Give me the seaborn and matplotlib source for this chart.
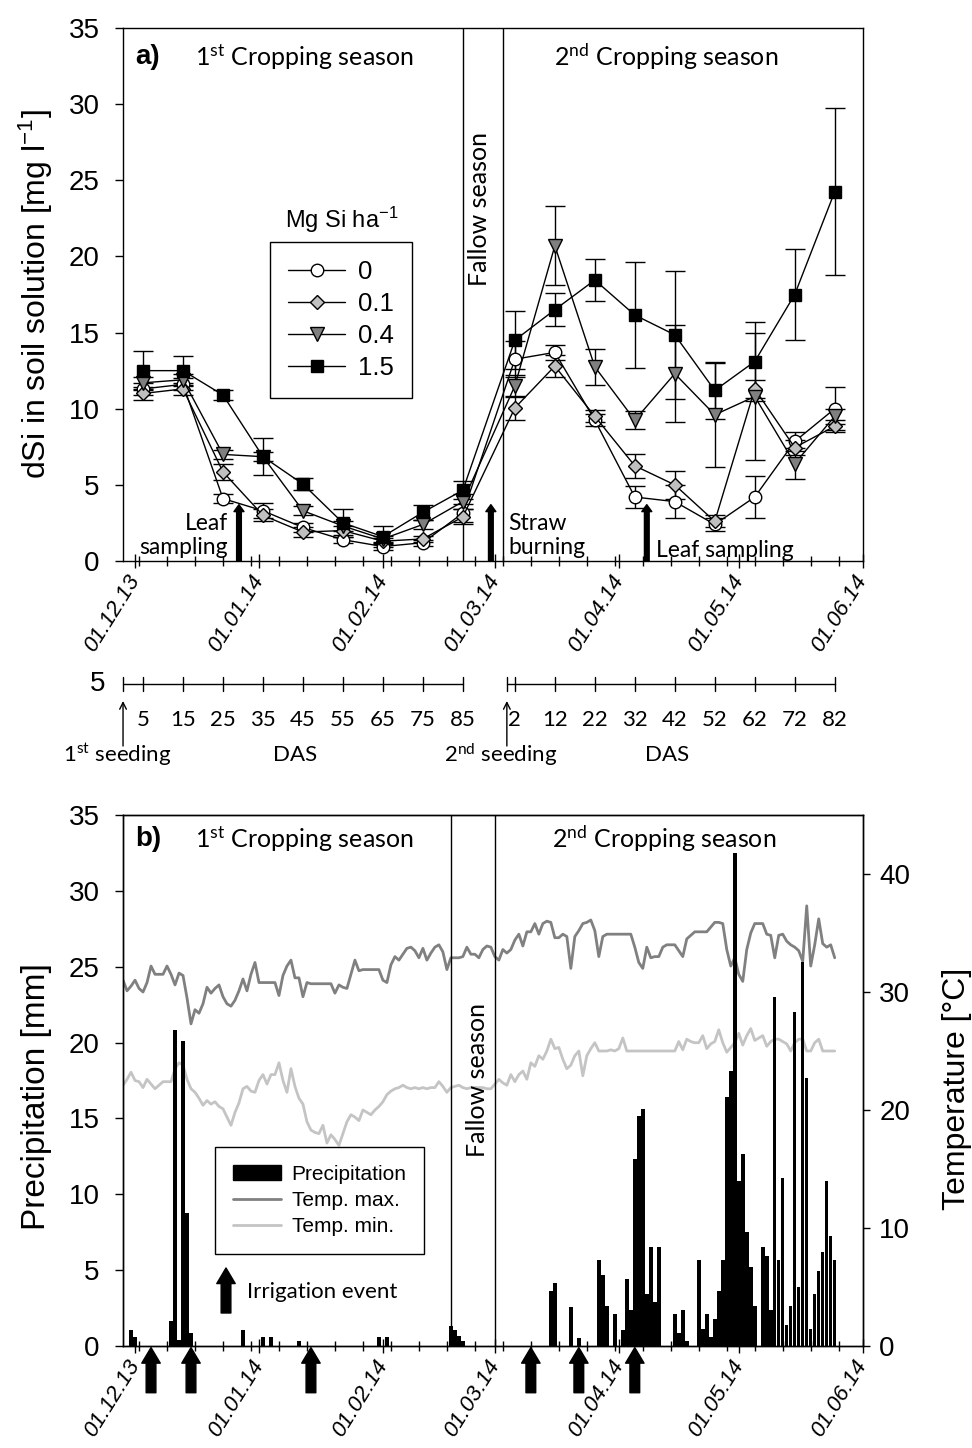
import numpy as np
import pandas as pd
import matplotlib
matplotlib.use("Agg")
import matplotlib.pyplot as plt
import matplotlib.dates as mdates
import matplotlib.transforms as mtransforms
from matplotlib.lines import Line2D
from matplotlib.patches import Patch
import seaborn as sns

# ---------------- data ----------------
rate_labels = ["0", "0.1", "0.4", "1.5"]
season1_dates = ["2013-12-03", "2013-12-13", "2013-12-23", "2014-01-02", "2014-01-12",
                 "2014-01-22", "2014-02-01", "2014-02-11", "2014-02-21"]
season2_dates = ["2014-03-06", "2014-03-16", "2014-03-26", "2014-04-05", "2014-04-15",
                 "2014-04-25", "2014-05-05", "2014-05-15", "2014-05-25"]
dsi_0 = [11.3, 11.6, 4.1, 3.3, 2.2, 1.4, 0.95, 1.2, 3.15,
         13.25, 13.7, 9.25, 4.2, 3.9, 2.4, 4.2, 7.85, 10.0]
dsi_01 = [11.0, 11.3, 5.85, 3.0, 1.9, 2.0, 1.3, 1.45, 2.9,
          10.05, 12.8, 9.5, 6.25, 5.0, 2.6, 11.3, 7.45, 8.85]
dsi_04 = [11.7, 11.9, 7.0, 6.85, 3.3, 2.3, 1.45, 2.4, 3.9,
          11.5, 20.7, 12.75, 9.25, 12.3, 9.6, 10.8, 6.4, 9.5]
dsi_15 = [12.5, 12.5, 10.9, 6.85, 5.05, 2.5, 1.6, 3.2, 4.65,
          14.5, 16.5, 18.45, 16.15, 14.85, 11.2, 13.1, 17.5, 24.25]
err_0 = [0.4, 0.4, 0.3, 0.5, 0.3, 0.2, 0.2, 0.2, 0.6, 1.2, 0.5, 0.4, 0.7, 1.1, 0.4, 1.4, 0.6, 1.4]
err_01 = [0.4, 0.4, 0.5, 0.4, 0.3, 0.3, 0.2, 0.2, 0.5, 0.8, 0.7, 0.4, 0.8, 0.9, 0.4, 0.6, 0.5, 0.4]
err_04 = [0.4, 0.4, 0.3, 0.3, 0.3, 0.3, 0.2, 0.3, 0.5, 0.7, 2.6, 1.2, 0.6, 3.2, 3.4, 4.2, 1.0, 0.5]
err_15 = [1.3, 0.95, 0.3, 1.2, 0.4, 0.9, 0.7, 0.5, 0.6, 1.9, 1.1, 1.4, 3.5, 4.2, 1.9, 2.6, 3.0, 5.5]

seeding_dates = ["2013-11-28", "2014-03-04"]
das_ticks_1 = [5, 15, 25, 35, 45, 55, 65, 75, 85]
das_ticks_2 = [2, 12, 22, 32, 42, 52, 62, 72, 82]
season_bounds_a = ["2014-02-21", "2014-03-03"]
season_bounds_b = ["2014-02-18", "2014-03-01"]
event_dates_a = ["2013-12-27", "2014-02-28", "2014-04-08"]
event_labels_a = ["Leaf\nsampling", "Straw\nburning", "Leaf sampling"]
irrigation_dates = ["2013-12-05", "2013-12-15", "2014-01-14", "2014-03-10", "2014-03-22", "2014-04-05"]

precip_dates = [
    "2013-11-30", "2013-12-01", "2013-12-10", "2013-12-11", "2013-12-12", "2013-12-13",
    "2013-12-14", "2013-12-15", "2013-12-28", "2014-01-02", "2014-01-04", "2014-01-11",
    "2014-01-31", "2014-02-02", "2014-02-18", "2014-02-19", "2014-02-20", "2014-02-21",
    "2014-03-15", "2014-03-16", "2014-03-20", "2014-03-22", "2014-03-27", "2014-03-28",
    "2014-03-29", "2014-03-31", "2014-04-02", "2014-04-03", "2014-04-04", "2014-04-05",
    "2014-04-06", "2014-04-07", "2014-04-08", "2014-04-09", "2014-04-10", "2014-04-11",
    "2014-04-15", "2014-04-16", "2014-04-17", "2014-04-18", "2014-04-21", "2014-04-22",
    "2014-04-23", "2014-04-24", "2014-04-25", "2014-04-26", "2014-04-27", "2014-04-28",
    "2014-04-29", "2014-04-30", "2014-05-01", "2014-05-02", "2014-05-03", "2014-05-04",
    "2014-05-05", "2014-05-07", "2014-05-08", "2014-05-09", "2014-05-10", "2014-05-11",
    "2014-05-12", "2014-05-13", "2014-05-14", "2014-05-15", "2014-05-16", "2014-05-17",
    "2014-05-18", "2014-05-19", "2014-05-20", "2014-05-21", "2014-05-22", "2014-05-23",
    "2014-05-24", "2014-05-25"]
precip_mm = [
    1.05, 0.6, 1.65, 20.8, 0.4, 20.1,
    8.75, 0.85, 1.05, 0.6, 0.6, 0.35,
    0.6, 0.6, 1.3, 1.05, 0.65, 0.3,
    3.65, 4.15, 2.6, 0.55, 5.65, 4.7,
    2.65, 2.1, 1.05, 4.4, 2.4, 12.3,
    15.15, 15.65, 3.4, 6.5, 2.9, 6.5,
    2.1, 0.85, 2.4, 0.35, 5.65, 1.1,
    2.1, 0.6, 1.8, 3.65, 5.65, 16.4,
    18.15, 32.5, 10.85, 12.65, 7.5, 5.2,
    2.65, 6.5, 5.95, 2.4, 23.0, 5.7,
    11.05, 1.4, 2.65, 22.0, 3.9, 25.3,
    17.65, 1.1, 3.4, 4.95, 6.2, 10.85,
    7.25, 5.7]

temp_start = "2013-11-28"
temp_max = [
    31.0, 30.1, 30.5, 31.0, 30.3, 30.0, 30.8, 32.2, 31.5, 31.5,
    31.5, 32.2, 31.5, 30.6, 31.6, 31.4, 29.5, 27.3, 28.5, 28.2,
    29.0, 30.4, 29.9, 30.3, 30.6, 29.6, 29.0, 28.8, 29.3, 30.1,
    31.1, 30.1, 31.5, 32.5, 30.8, 30.8, 30.8, 30.8, 30.8, 29.7,
    31.4, 32.2, 32.7, 31.2, 31.2, 29.6, 30.8, 30.7, 30.7, 30.7,
    30.7, 30.7, 30.7, 29.9, 30.6, 30.4, 30.3, 31.5, 32.7, 31.8,
    31.9, 31.9, 31.9, 31.9, 31.9, 31.0, 30.8, 32.3, 33.0, 32.7,
    33.2, 33.7, 33.8, 33.5, 32.9, 33.7, 32.7, 33.3, 33.8, 34.0,
    33.4, 31.9, 32.9, 32.9, 32.9, 33.0, 33.8, 33.2, 33.2, 32.9,
    33.6, 33.9, 33.8, 33.0, 32.7, 33.6, 33.3, 33.6, 34.4, 34.9,
    33.9, 35.1, 35.1, 35.8, 34.9, 35.8, 36.0, 35.9, 34.6, 34.6,
    34.9, 34.7, 32.0, 34.7, 35.2, 35.8, 35.9, 36.1, 35.2, 33.0,
    34.7, 34.9, 34.9, 34.9, 34.9, 34.9, 34.9, 34.9, 33.8, 32.5,
    32.0, 33.8, 32.9, 33.0, 33.0, 33.8, 34.0, 34.0, 34.0, 33.5,
    33.0, 34.5, 34.8, 35.1, 35.1, 35.1, 35.1, 35.5, 35.9, 35.9,
    35.8, 33.6, 32.2, 32.9, 31.5, 30.9, 33.6, 35.0, 35.8, 35.8,
    35.8, 34.9, 34.8, 32.9, 34.8, 34.9, 34.3, 34.0, 33.8, 33.5,
    32.6, 37.3, 32.2, 34.0, 36.2, 34.1, 33.8, 34.0, 32.9]
temp_min = [
    22.1, 22.6, 23.2, 22.5, 22.4, 21.9, 22.6, 22.2, 21.8, 22.1,
    22.4, 22.4, 22.4, 23.5, 24.0, 23.8, 22.6, 21.8, 21.5, 21.0,
    20.4, 20.8, 20.5, 20.7, 20.3, 20.1, 19.4, 18.7, 19.8, 20.6,
    21.8, 22.0, 21.6, 21.5, 22.5, 23.0, 22.2, 23.0, 23.0, 24.0,
    22.5, 21.5, 23.5, 22.0, 21.0, 20.5, 19.0, 18.3, 18.1, 18.0,
    18.7, 17.2, 17.9, 17.5, 17.0, 18.0, 19.0, 19.6, 19.4, 19.1,
    20.0, 19.8, 19.6, 20.0, 20.3, 20.7, 21.3, 21.6, 21.8, 21.9,
    22.1, 21.9, 21.8, 21.9, 21.8, 21.9, 21.8, 21.9, 21.9, 22.4,
    22.0, 21.5, 21.9, 22.0, 22.1, 21.9, 21.8, 21.9, 21.9, 21.9,
    21.9, 21.8, 21.8, 22.2, 22.6, 22.3, 22.1, 23.0, 22.4, 23.0,
    23.3, 22.6, 24.0, 23.7, 24.6, 24.3, 25.0, 26.0, 25.2, 25.3,
    24.3, 23.5, 23.8, 24.6, 25.0, 22.9, 24.6, 25.2, 25.7, 25.0,
    25.0, 25.0, 25.1, 25.0, 25.2, 26.1, 25.0, 25.0, 25.0, 25.0,
    25.0, 25.0, 25.0, 25.0, 25.0, 25.0, 25.0, 25.0, 25.0, 25.8,
    25.1, 26.0, 25.8, 25.7, 25.7, 26.3, 25.2, 25.6, 25.8, 26.8,
    25.7, 24.9, 25.3, 25.7, 26.5, 25.5, 26.3, 26.9, 25.9, 26.1,
    26.3, 25.4, 25.8, 26.0, 26.0, 25.8, 25.6, 25.0, 25.7, 26.0,
    26.0, 25.0, 25.0, 25.7, 26.0, 25.0, 25.0, 25.0, 25.0]

# ---------------- style ----------------
sns.set_theme(style="ticks")
plt.rcParams.update({
    "font.family": ["Liberation Sans", "DejaVu Sans"],
    "mathtext.default": "regular",
    "axes.edgecolor": "black", "axes.linewidth": 1.0,
    "xtick.color": "black", "ytick.color": "black",
    "axes.labelcolor": "black", "text.color": "black",
})
SANS = ["Liberation Sans", "DejaVu Sans"]
CAL = ["Lato", "DejaVu Sans"]

W, H = 972, 1448
fig = plt.figure(figsize=(W / 100, H / 100), dpi=100)


def rect(x0, y0, x1, y1):
    return [x0 / W, 1 - y1 / H, (x1 - x0) / W, (y1 - y0) / H]


def dn(d):
    return mdates.date2num(pd.Timestamp(d))


ax_a = fig.add_axes(rect(122.7, 28, 862.7, 561))
ax_d = fig.add_axes(rect(122.7, 650, 862.7, 790))
ax_b = fig.add_axes(rect(122.7, 815, 862.7, 1346))
xlim = (dn("2013-11-27 22:00"), dn("2014-06-01"))

# ---------------- panel a ----------------
dates = pd.to_datetime(season1_dates + season2_dates)
styles = [
    dict(marker="o", markerfacecolor="white", markersize=9),
    dict(marker="D", markerfacecolor="#c0c0c0", markersize=7.5),
    dict(marker="v", markerfacecolor="#7f7f7f", markersize=10),
    dict(marker="s", markerfacecolor="black", markersize=8),
]
series = [dsi_0, dsi_01, dsi_04, dsi_15]
errs = [err_0, err_01, err_04, err_15]
for vals, er in zip(series, errs):
    ax_a.errorbar(dates, vals, yerr=er, fmt="none", ecolor="black", elinewidth=1,
                  capsize=7, capthick=1, zorder=2)
for vals, st in zip(series, styles):
    sns.lineplot(x=dates, y=vals, ax=ax_a, color="black", linewidth=1,
                 markeredgecolor="black", markeredgewidth=1, zorder=3,
                 legend=False, errorbar=None, **st)

for d in season_bounds_a:
    ax_a.axvline(dn(d), color="black", lw=1, zorder=1)

for i, (d, lab) in enumerate(zip(event_dates_a, event_labels_a)):
    t = dn(d)
    ax_a.annotate("", xy=(t, 3.7), xytext=(t, 0),
                  arrowprops=dict(arrowstyle="simple,head_length=0.5,head_width=0.72,tail_width=0.34",
                                  mutation_scale=10, color="black", shrinkA=0, shrinkB=0))
    if i == 0:
        ax_a.annotate(lab, xy=(t, 0), xytext=(-7.8, 18.4), textcoords="offset points",
                      ha="right", va="center", multialignment="right",
                      fontsize=16.5, family=CAL, linespacing=1.15)
    elif i == 1:
        ax_a.annotate(lab, xy=(t, 0), xytext=(12.5, 18.4), textcoords="offset points",
                      ha="left", va="center", multialignment="left",
                      fontsize=16.5, family=CAL, linespacing=1.15)
    else:
        ax_a.annotate(lab, xy=(t, 0), xytext=(6.9, 7.9), textcoords="offset points",
                      ha="left", va="center", fontsize=16.5, family=CAL)

ax_a.set_xlim(*xlim)
ax_a.set_ylim(0, 35)
ax_a.set_yticks(range(0, 36, 5))
ax_a.set_ylabel("dSi in soil solution [mg l$^{-1}$]", fontsize=23, family=SANS)
ax_a.yaxis.set_label_coords((55 - 122.7) / 740, 0.5)
ax_a.set_xlabel("")

ax_a.text(0.0175, 0.9456, "a)", transform=ax_a.transAxes, ha="left", va="center",
          fontsize=20, fontweight="bold", family=SANS)
ax_a.text(0.245, 0.9456, "1$^{st}$ Cropping season", transform=ax_a.transAxes,
          ha="center", va="center", fontsize=18, family=CAL)
ax_a.text(0.734, 0.9456, "2$^{nd}$ Cropping season", transform=ax_a.transAxes,
          ha="center", va="center", fontsize=18, family=CAL)
ax_a.text(0.4828, 0.660, "Fallow season", transform=ax_a.transAxes, rotation=90,
          ha="center", va="center", fontsize=18, family=CAL)

handles = [Line2D([0], [0], color="black", lw=1, markeredgecolor="black",
                  markeredgewidth=1, **st) for st in styles]
leg = ax_a.legend(handles, rate_labels, loc="upper left",
                  bbox_to_anchor=((270 - 122.7) / 740, (561 - 242) / 533),
                  borderaxespad=0, frameon=True, fancybox=False, framealpha=1,
                  edgecolor="black", prop=dict(family=SANS, size=18.5),
                  handlelength=2.2, handletextpad=0.5, borderpad=0.71, labelspacing=0.31)
leg.get_frame().set_linewidth(1)
ax_a.text((342 - 122.7) / 740, (561 - 220) / 533, "Mg Si ha$^{-1}$",
          transform=ax_a.transAxes, ha="center", va="center", fontsize=17, family=SANS)

# ---------------- DAS axis ----------------
ax_d.set_xlim(*xlim)
ax_d.set_ylim(790, 650)
ax_d.axis("off")
s1, s2 = [dn(s) for s in seeding_dates]
for s, ticks in ((s1, das_ticks_1), (s2, das_ticks_2)):
    tick_dates = [s + t for t in ticks]
    ax_d.plot([s, tick_dates[-1]], [684, 684], color="black", lw=1, clip_on=False)
    for td in [s] + tick_dates:
        ax_d.plot([td, td], [677, 691], color="black", lw=1, clip_on=False)
    for t, td in zip(ticks, tick_dates):
        ax_d.text(td, 720, str(t), ha="center", va="center", fontsize=16, family=CAL)
    ax_d.annotate("", xy=(s, 701), xytext=(s, 746),
                  arrowprops=dict(arrowstyle="->", lw=1, color="black", shrinkA=0, shrinkB=0),
                  annotation_clip=False)
off = mtransforms.offset_copy(ax_d.transData, fig=fig, x=-6, y=0, units="dots")
ax_d.text(s1, 755, "1$^{st}$ seeding", ha="center", va="center", fontsize=16, family=CAL,
          transform=off)
ax_d.text(s2, 755, "2$^{nd}$ seeding", ha="center", va="center", fontsize=16, family=CAL,
          transform=off)
ax_d.text(s1 + 43, 755, "DAS", ha="center", va="center", fontsize=16, family=CAL)
ax_d.text(s2 + 40, 755, "DAS", ha="center", va="center", fontsize=16, family=CAL)
fig.text(97.5 / W, 1 - 684 / H, "5", ha="center", va="center", fontsize=20, family=SANS)

# ---------------- panel b ----------------
ax_t = ax_b.twinx()
tdates = pd.date_range(temp_start, periods=len(temp_max), freq="D")
sns.lineplot(x=tdates, y=temp_max, ax=ax_t, color="#808080", linewidth=2, legend=False)
sns.lineplot(x=tdates, y=temp_min, ax=ax_t, color="#c4c4c4", linewidth=2, legend=False)
ax_t.set_ylim(0, 45)
ax_t.set_yticks(range(0, 41, 10))
ax_t.set_xlabel("")
ax_t.set_ylabel("Temperature [°C]", fontsize=23, family=SANS)
ax_t.yaxis.set_label_coords((942 - 122.7) / 740, 0.484)
ax_b.set_zorder(ax_t.get_zorder() + 1)
ax_b.patch.set_visible(False)

ax_b.bar(pd.to_datetime(precip_dates), precip_mm, width=0.88, color="black", linewidth=0,
         zorder=2)
for d in season_bounds_b:
    ax_b.axvline(dn(d), color="black", lw=1, zorder=1)

arrow_b = dict(arrowstyle="simple,head_length=0.8,head_width=0.95,tail_width=0.5",
               mutation_scale=14, color="black", shrinkA=0, shrinkB=0)
for d in irrigation_dates:
    t = dn(d)
    ax_b.annotate("", xy=(t, -0.003), xycoords=ax_b.get_xaxis_transform(),
                  xytext=(t, -0.088), textcoords=ax_b.get_xaxis_transform(),
                  arrowprops=arrow_b, annotation_clip=False)
# irrigation key
ax_b.annotate("", xy=(0.1396, (1346 - 1268) / 531), xycoords="axes fraction",
              xytext=(0.1396, (1346 - 1313) / 531), textcoords="axes fraction",
              arrowprops=arrow_b)
ax_b.text((246.7 - 122.7) / 740, (1346 - 1292) / 531, "Irrigation event",
          transform=ax_b.transAxes, ha="left", va="center", fontsize=16, family=CAL)

ax_b.set_xlim(*xlim)
ax_b.set_ylim(0, 35)
ax_b.set_yticks(range(0, 36, 5))
ax_b.set_ylabel("Precipitation [mm]", fontsize=24, family=SANS)
ax_b.yaxis.set_label_coords((52 - 122.7) / 740, 0.469)

ax_b.text(0.0175, 0.9548, "b)", transform=ax_b.transAxes, ha="left", va="center",
          fontsize=20, fontweight="bold", family=SANS)
ax_b.text(0.245, 0.9548, "1$^{st}$ Cropping season", transform=ax_b.transAxes,
          ha="center", va="center", fontsize=18, family=CAL)
ax_b.text(0.7315, 0.9548, "2$^{nd}$ Cropping season", transform=ax_b.transAxes,
          ha="center", va="center", fontsize=18, family=CAL)
ax_b.text(0.4788, 0.501, "Fallow season", transform=ax_b.transAxes, rotation=90,
          ha="center", va="center", fontsize=18, family=CAL)

hb = [Patch(facecolor="black", edgecolor="black"),
      Line2D([0], [0], color="#808080", lw=2),
      Line2D([0], [0], color="#c4c4c4", lw=2)]
legb = ax_b.legend(hb, ["Precipitation", "Temp. max.", "Temp. min."], loc="upper left",
                   bbox_to_anchor=((215 - 122.7) / 740, (1346 - 1147) / 531),
                   borderaxespad=0, frameon=True, fancybox=False, framealpha=1,
                   edgecolor="black", prop=dict(family=SANS, size=15),
                   handlelength=2.3, handletextpad=0.53, borderpad=0.85, labelspacing=0.35)
legb.get_frame().set_linewidth(1)

# ---------------- ticks ----------------
for ax in (ax_a, ax_b):
    ax.xaxis.set_major_locator(mdates.MonthLocator())
    ax.xaxis.set_major_formatter(mdates.DateFormatter("%d.%m.%y"))
    ax.xaxis.set_minor_locator(mdates.WeekdayLocator(byweekday=mdates.MO))
    ax.tick_params(axis="x", which="major", direction="inout", length=10, width=1, pad=6)
    ax.tick_params(axis="x", which="minor", direction="inout", length=7, width=1)
    ax.tick_params(axis="y", which="major", direction="out", length=5.5, width=1,
                   labelsize=20, pad=11)
    for lab in ax.get_xticklabels():
        lab.set_rotation(58)
        lab.set_ha("right")
        lab.set_va("center")
        lab.set_rotation_mode("anchor")
        lab.set_fontstyle("italic")
        lab.set_fontsize(16)
        lab.set_family(SANS)
    for lab in ax.get_yticklabels():
        lab.set_family(SANS)
    for sp in ax.spines.values():
        sp.set_visible(True)
        sp.set_linewidth(1)
        sp.set_color("black")
ax_t.tick_params(axis="y", which="major", direction="out", length=5, width=1,
                 labelsize=20, pad=7)
for lab in ax_t.get_yticklabels():
    lab.set_family(SANS)

fig.savefig("out.png", dpi=100)
